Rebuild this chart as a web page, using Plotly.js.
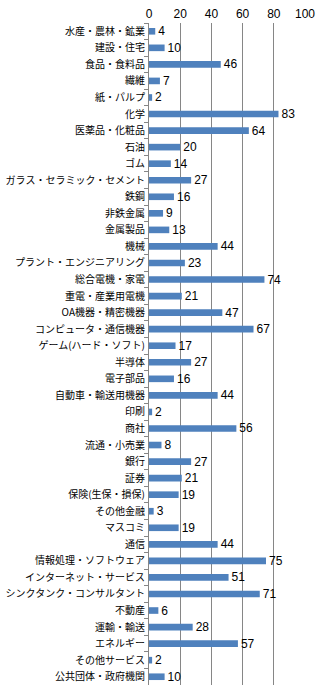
<!DOCTYPE html>
<html><head><meta charset="utf-8">
<script src="https://cdn.plot.ly/plotly-3.0.1.min.js"></script>
<style>html,body{margin:0;padding:0;background:#fff;}#c{width:328px;height:690px;}</style>
</head><body><div id="c"></div>
<script>
const categories = ["水産・農林・鉱業","建設・住宅","食品・食料品","繊維","紙・パルプ","化学","医薬品・化粧品","石油","ゴム","ガラス・セラミック・セメント","鉄鋼","非鉄金属","金属製品","機械","プラント・エンジニアリング","総合電機・家電","重電・産業用電機","OA機器・精密機器","コンピュータ・通信機器","ゲーム(ハード・ソフト)","半導体","電子部品","自動車・輸送用機器","印刷","商社","流通・小売業","銀行","証券","保険(生保・損保)","その他金融","マスコミ","通信","情報処理・ソフトウェア","インターネット・サービス","シンクタンク・コンサルタント","不動産","運輸・輸送","エネルギー","その他サービス","公共団体・政府機関"];
const values = [4,10,46,7,2,83,64,20,14,27,16,9,13,44,23,74,21,47,67,17,27,16,44,2,56,8,27,21,19,3,19,44,75,51,71,6,28,57,2,10];
const xTicks = [0,20,40,60,80,100];
const cjk = "'Noto Sans CJK JP', 'Noto Sans', sans-serif";
const num = "'Liberation Sans', Arial, sans-serif";
Plotly.newPlot('c', [{
  type:'bar', orientation:'h', y:categories, x:values,
  marker:{color:'#4F81BD'},
  text:values.map(String), textposition:'outside', cliponaxis:false, constraintext:'none',
  textfont:{size:12,color:'#000',family:num}
}], {
  width:328, height:690,
  margin:{l:149,r:23,t:23,b:5},
  bargap:0.6,
  paper_bgcolor:'#fff', plot_bgcolor:'#fff',
  showlegend:false,
  font:{family:cjk,size:10,color:'#000'},
  xaxis:{side:'top', range:[0,100], tickvals:xTicks, ticktext:xTicks.map(String),
    showgrid:true, gridcolor:'#868686', gridwidth:1, zeroline:false, showline:false,
    ticks:'', ticklabelstandoff:2, tickfont:{size:12,color:'#000',family:num}},
  yaxis:{autorange:'reversed', type:'category', showline:true, linecolor:'#868686', linewidth:1,
    ticks:'outside', tickson:'boundaries', ticklen:4, tickcolor:'#868686', ticklabelstandoff:1,
    showgrid:false, zeroline:false, tickfont:{size:10,color:'#000',family:cjk}}
}, {staticPlot:true, displayModeBar:false});
</script></body></html>
